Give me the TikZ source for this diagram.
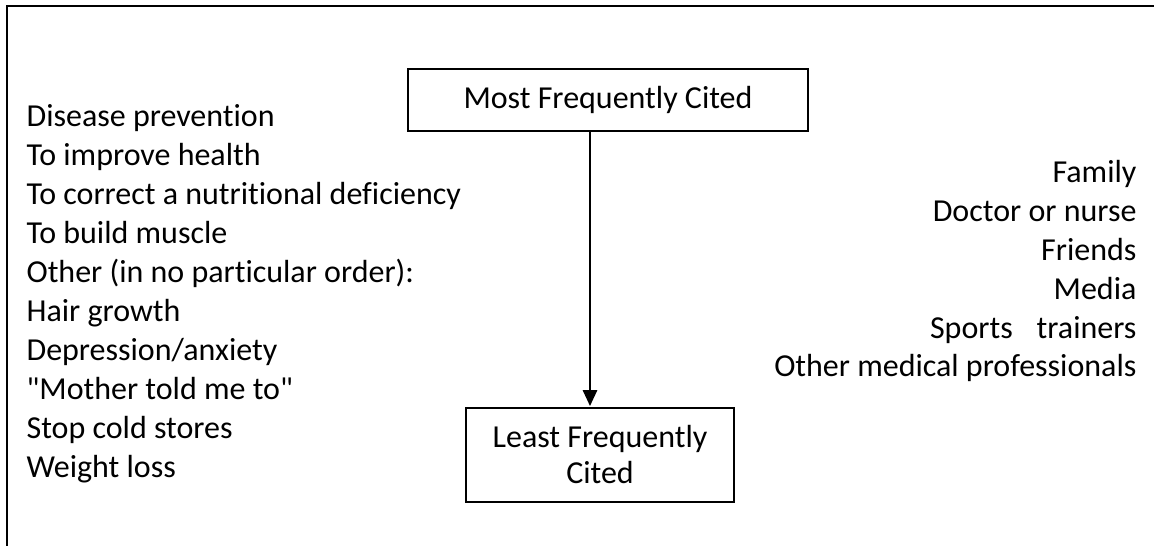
\documentclass[tikz,border=0pt]{standalone}
\usepackage{fontspec}
\setmainfont{Carlito}[Ligatures={NoCommon,TeXOff}]
\usetikzlibrary{arrows.meta}
\begin{document}
\begin{tikzpicture}[x=0.347pt,y=-0.347pt,
  every node/.style={font=\fontsize{11.1}{13.5}\selectfont, inner sep=0pt},
  box/.style={draw, line width=0.7pt, align=center},
  frame/.style={line width=0.7pt},
  link/.style={line width=0.5pt, -{Triangle[width=5pt,length=5.5pt]}}]
\useasboundingbox (0,0) rectangle (1154,546);
\draw[frame] (7,546) -- (7,6) -- (1154,6);
\node[box, minimum width=138.8pt, minimum height=21.5pt] (top) at (608,100) {Most Frequently Cited};
\node[box, minimum width=93pt, minimum height=32.6pt, font=\fontsize{11.1}{12.5}\selectfont] (bottom) at (600,455) {Least Frequently\\Cited};
\coordinate (tip) at (590,406);
\draw[link] (top.south -| tip) -- (tip);
\foreach \t [count=\i from 0] in {{Disease prevention},{To improve health},{To correct a nutritional deficiency},{To build muscle},{Other (in no particular order):},{Hair growth},{Depression/anxiety},{"Mother told me to"},{Stop cold stores},{Weight loss}}
  \node[anchor=base west] (left\i) at (26,{127+38.9*\i}) {\t};
\foreach \t [count=\i from 0] in {{Family},{Doctor or nurse},{Friends},{Media},{Sports\hspace{8.3pt}trainers},{Other medical professionals}}
  \node[anchor=base east] (right\i) at (1137,{183+38.8*\i}) {\t};
\end{tikzpicture}
\end{document}
